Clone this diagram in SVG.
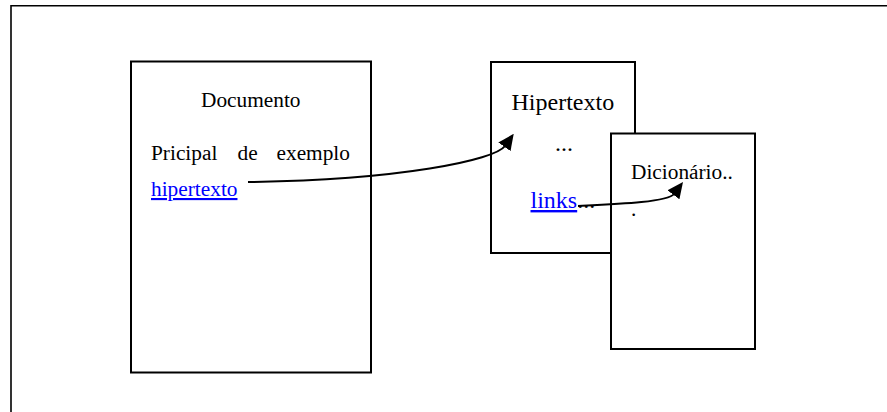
<svg xmlns="http://www.w3.org/2000/svg" width="887" height="412" viewBox="0 0 887 412">
  <style>
    .page { fill: #ffffff; stroke: #000000; stroke-width: 2; }
    .frame { fill: none; stroke: #000000; stroke-width: 1.6; }
    .txt { font-family: "Liberation Serif", "Times New Roman", serif; fill: #000000; }
    .s16 { font-size: 21.33px; }
    .s18 { font-size: 24px; }
    .link { fill: #0000ff; text-decoration: underline; }
    .conn { fill: none; stroke: #000000; stroke-width: 2; }
  </style>
  <defs>
    <marker id="arrow" markerUnits="userSpaceOnUse" viewBox="0 0 16 15" refX="1" refY="7.5" markerWidth="16" markerHeight="15" orient="auto">
      <path d="M0,0 L16,7.5 L0,15 z" fill="#000000"/>
    </marker>
  </defs>

  <rect width="887" height="412" fill="#ffffff"/>

  <!-- outer frame (top and left edges) -->
  <path class="frame" d="M11,412 V5.7 H887"/>

  <g id="documento">
    <rect class="page" x="131" y="61.5" width="240" height="311"/>
    <text class="txt s16" x="201" y="107">Documento</text>
    <text class="txt s16" y="160"><tspan x="151">Pricipal</tspan><tspan x="237.5">de</tspan><tspan x="276.5">exemplo</tspan></text>
    <text class="txt s16 link" x="151" y="196">hipertexto</text>
  </g>

  <g id="hipertexto">
    <rect class="page" x="491" y="62" width="144" height="191"/>
    <text class="txt s18" x="511.5" y="110">Hipertexto</text>
    <text class="txt s18" x="555" y="151">...</text>
    <text class="txt s18" x="530.5" y="208"><tspan class="link">links</tspan>...</text>
  </g>

  <g id="dicionario">
    <rect class="page" x="611" y="133.5" width="144" height="215.5"/>
    <text class="txt s16" x="631" y="179">Dicionário..</text>
    <text class="txt s16" x="631" y="216">.</text>
  </g>

  <g id="connectors">
    <path class="conn" d="M248,182 C400,180 495,160 505,146" marker-end="url(#arrow)"/>
    <path class="conn" d="M578,206 C620,204 668,202 674,194" marker-end="url(#arrow)"/>
  </g>
</svg>
